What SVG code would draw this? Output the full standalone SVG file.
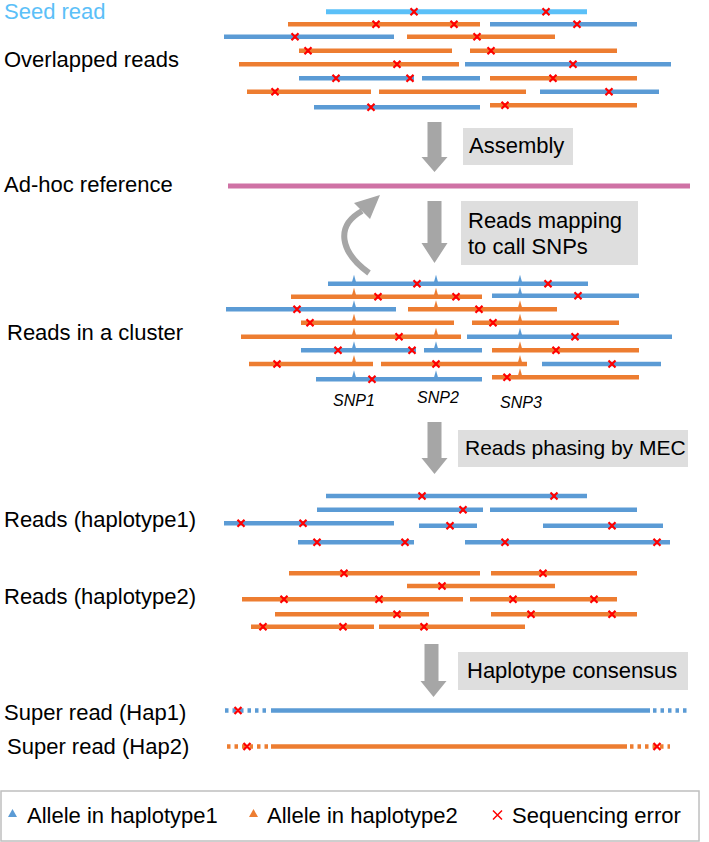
<svg xmlns="http://www.w3.org/2000/svg" xmlns:xlink="http://www.w3.org/1999/xlink" width="709" height="842" viewBox="0 0 709 842">
<style>
text{font-family:"Liberation Sans",Arial,sans-serif;font-size:22px;fill:#000}
.b{stroke:#5B9BD5;stroke-width:4.5;fill:none}
.o{stroke:#ED7D31;stroke-width:4.5;fill:none}
.seed{stroke:#5BC0F8;stroke-width:5;fill:none}
.box{fill:#DEDEDE}
.arr{fill:#A6A6A6}
.snp{font-size:16px;font-style:italic}
</style>
<defs>
<path id="x" d="M-3.5,-3.5L3.5,3.5M-3.5,3.5L3.5,-3.5" stroke="#FF0000" stroke-width="2.2" fill="none"/>
<path id="tb" d="M-2.5,0L0,-9L2.5,0Z" fill="#5B9BD5"/>
<path id="to" d="M-2.5,0L0,-9L2.5,0Z" fill="#ED7D31"/>
</defs>
<rect width="709" height="842" fill="#fff"/>

<g id="labels">
<text x="4" y="19" style="fill:#5BC0F8">Seed read</text>
<text x="4" y="67">Overlapped reads</text>
<text x="4" y="192">Ad-hoc reference</text>
<text x="7" y="340">Reads in a cluster</text>
<text x="4" y="527">Reads (haplotype1)</text>
<text x="4" y="604">Reads (haplotype2)</text>
<text x="4" y="720">Super read (Hap1)</text>
<text x="7" y="754">Super read (Hap2)</text>
</g>

<g id="overlapped-reads">
<path class="seed" d="M326,11.7H587"/>
<path class="o" d="M288,24.3H480M407,36.7H555M299,50.7H452M470,50.7H617M239,64.3H459M490,78.3H637M247,91.7H371M379,91.7H526M490,105.3H637"/>
<path class="b" d="M490,24.3H637M224,36.7H394M465,64.3H671M299,78.3H414M422,78.3H480M540,91.7H659M314,107.3H480"/>
<use href="#x" x="414" y="11.7"/><use href="#x" x="546" y="11.7"/>
<use href="#x" x="376" y="24.3"/><use href="#x" x="454" y="24.3"/><use href="#x" x="577" y="24.3"/>
<use href="#x" x="295" y="36.7"/><use href="#x" x="477" y="36.7"/>
<use href="#x" x="308" y="50.7"/><use href="#x" x="491" y="50.7"/>
<use href="#x" x="397" y="64.3"/><use href="#x" x="573" y="64.3"/>
<use href="#x" x="336" y="78.3"/><use href="#x" x="410" y="78.3"/><use href="#x" x="553" y="78.3"/>
<use href="#x" x="275" y="91.7"/><use href="#x" x="609" y="91.7"/>
<use href="#x" x="371" y="107.3"/><use href="#x" x="505" y="105.3"/>
</g>

<g id="assembly-step">
<rect class="box" x="463" y="128" width="110" height="37"/>
<text x="469" y="153">Assembly</text>
</g>

<g id="adhoc-reference">
<path d="M228,186H690" stroke="#CF72A5" stroke-width="5" fill="none"/>
</g>

<g id="mapping-step">
<rect class="box" x="461" y="201" width="177" height="64"/>
<text x="468" y="228">Reads mapping</text>
<text x="468" y="254">to call SNPs</text>
</g>

<g id="cluster-reads">
<use href="#tb" x="354" y="283.7"/><use href="#tb" x="436" y="283.7"/><use href="#tb" x="520" y="283.7"/>
<use href="#to" x="354" y="296.7"/><use href="#to" x="436" y="296.7"/><use href="#tb" x="520" y="295.7"/>
<use href="#tb" x="354" y="309.3"/><use href="#to" x="436" y="309.3"/><use href="#to" x="520" y="309.3"/>
<use href="#to" x="354" y="322.7"/><use href="#to" x="520" y="322.7"/>
<use href="#to" x="354" y="336.7"/><use href="#to" x="436" y="336.7"/><use href="#tb" x="520" y="336.7"/>
<use href="#tb" x="354" y="350.3"/><use href="#tb" x="436" y="350.3"/><use href="#to" x="520" y="350.3"/>
<use href="#to" x="354" y="364"/><use href="#to" x="520" y="364"/>
<use href="#tb" x="354" y="379.3"/><use href="#tb" x="436" y="379.3"/><use href="#to" x="520" y="377.3"/>
<path class="b" d="M328,283.7H588M492,295.7H639M226,309.3H396M467,336.7H672M301,350.3H416M424,350.3H482M542,364H661M316,379.3H482"/>
<path class="o" d="M291,296.7H482M408,309.3H557M301,322.7H454M472,322.7H619M241,336.7H461M492,350.3H639M249,364H373M381,364H527M492,377.3H639"/>
<use href="#x" x="417" y="283.7"/><use href="#x" x="548" y="283.7"/>
<use href="#x" x="378" y="296.7"/><use href="#x" x="456" y="296.7"/><use href="#x" x="578" y="295.7"/>
<use href="#x" x="297" y="309.3"/><use href="#x" x="479" y="309.3"/>
<use href="#x" x="310" y="322.7"/><use href="#x" x="493" y="322.7"/>
<use href="#x" x="399" y="336.7"/><use href="#x" x="575" y="336.7"/>
<use href="#x" x="338" y="350.3"/><use href="#x" x="412" y="350.3"/><use href="#x" x="556" y="350.3"/>
<use href="#x" x="277" y="364"/><use href="#x" x="436" y="364"/><use href="#x" x="612" y="364"/>
<use href="#x" x="372" y="379.3"/><use href="#x" x="507" y="377.3"/>
<text class="snp" x="333" y="406">SNP1</text>
<text class="snp" x="417" y="403">SNP2</text>
<text class="snp" x="500" y="408">SNP3</text>
</g>

<g id="phasing-step">
<rect class="box" x="458" y="430" width="230" height="37"/>
<text x="465" y="455" style="font-size:21px">Reads phasing by MEC</text>
</g>

<g id="haplotype1-reads">
<path class="b" d="M326,496H587M317,509.7H483M490,509.7H637M224,523.3H394M419,525.7H477M543,525.7H663M298,542.3H414M465,542.3H670"/>
<use href="#x" x="422" y="496"/><use href="#x" x="554" y="496"/>
<use href="#x" x="463" y="509.7"/>
<use href="#x" x="241" y="523.3"/><use href="#x" x="303" y="523.3"/><use href="#x" x="450" y="525.7"/><use href="#x" x="612" y="525.7"/>
<use href="#x" x="317" y="542.3"/><use href="#x" x="405" y="542.3"/><use href="#x" x="505" y="542.3"/><use href="#x" x="657" y="542.3"/>
</g>

<g id="haplotype2-reads">
<path class="o" d="M289,573.3H480M491,573.3H637M407,586H555M242,599.3H463M470,599.3H617M275,614.3H429M491,614.3H637M251,626.7H374M379,626.7H525"/>
<use href="#x" x="344" y="573.3"/><use href="#x" x="543" y="573.3"/>
<use href="#x" x="442" y="586"/>
<use href="#x" x="284" y="599.3"/><use href="#x" x="379" y="599.3"/><use href="#x" x="513" y="599.3"/><use href="#x" x="594" y="599.3"/>
<use href="#x" x="397" y="614.3"/><use href="#x" x="531" y="614.3"/><use href="#x" x="612" y="614.3"/>
<use href="#x" x="263" y="626.7"/><use href="#x" x="343" y="626.7"/><use href="#x" x="424" y="626.7"/>
</g>

<g id="consensus-step">
<rect class="box" x="458" y="652" width="230" height="38"/>
<text x="467" y="678">Haplotype consensus</text>
</g>

<g id="super-reads">
<path class="b" d="M225,710.5H268" stroke-dasharray="3.5 4"/>
<path class="b" d="M271,710.5H650"/>
<path class="b" d="M653,710.5H690" stroke-dasharray="3.5 4"/>
<use href="#x" x="238" y="710.5"/>
<path class="o" d="M227,746.5H268" stroke-dasharray="3.5 4"/>
<path class="o" d="M271,746.5H627"/>
<path class="o" d="M630,746.5H670" stroke-dasharray="3.5 4"/>
<use href="#x" x="247" y="746.5"/><use href="#x" x="657" y="746.5"/>
</g>

<g id="connectors">
<path class="arr" d="M427.5,122H441.5V157H447.5L434.5,172L421.5,157H427.5Z"/>
<path class="arr" d="M427.5,201H441.5V243H447.5L434.5,263L421.5,243H427.5Z"/>
<path class="arr" d="M427.5,422H441.5V458H447.5L434.5,474L421.5,458H427.5Z"/>
<path class="arr" d="M424.5,644H438.5V681H446.5L433.5,697L420.5,681H424.5Z"/>
<path d="M369,273C340,252,335,226,362,211" stroke="#A6A6A6" stroke-width="6" fill="none"/>
<path class="arr" d="M380,195L370,219L354,203Z"/>
</g>

<g id="legend">
<rect x="1" y="791" width="698" height="50" fill="#fff" stroke="#BFBFBF" stroke-width="1.5"/>
<path d="M8,817L12.5,809L17,817Z" fill="#5B9BD5"/>
<text x="27" y="823">Allele in haplotype1</text>
<path d="M249,817L253.5,809L258,817Z" fill="#ED7D31"/>
<text x="267" y="823">Allele in haplotype2</text>
<path d="M493,810.5L502,819.5M493,819.5L502,810.5" stroke="#FF0000" stroke-width="1.5" fill="none"/>
<text x="512" y="823">Sequencing error</text>
</g>
</svg>
